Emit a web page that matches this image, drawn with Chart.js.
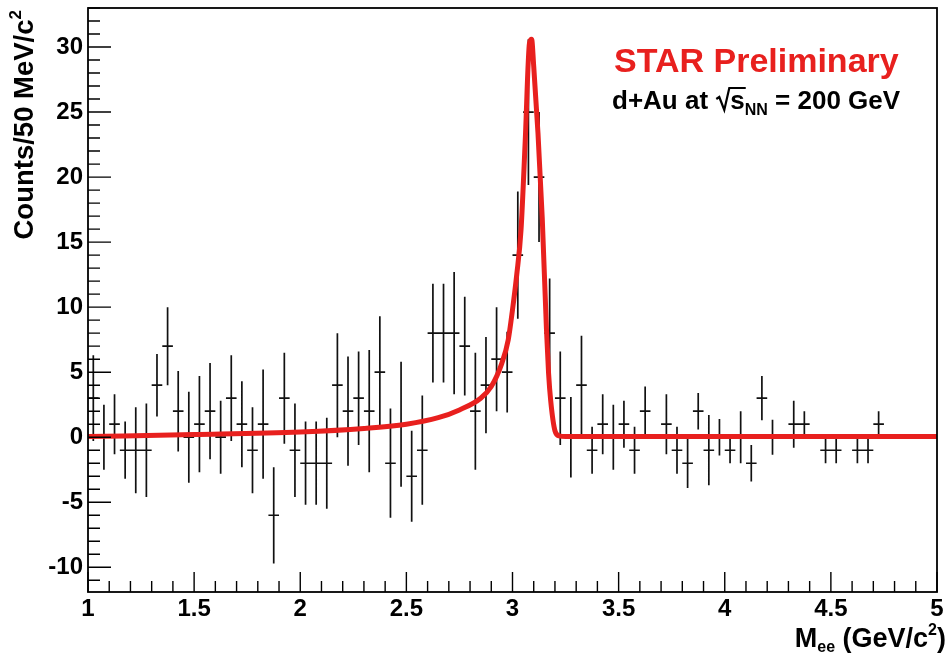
<!DOCTYPE html>
<html>
<head>
<meta charset="utf-8">
<title>STAR d+Au dielectron mass</title>
<script src="https://cdn.jsdelivr.net/npm/chart.js@4.4.1/dist/chart.umd.min.js"></script>
<style>
  html, body { margin: 0; padding: 0; background: #fff; }
  #wrap { width: 948px; height: 660px; }
</style>
</head>
<body>
<div id="wrap"><canvas id="chart" width="948" height="660"></canvas></div>
<script>
// bin centres in GeV/c^2 (50 MeV bins, empty bins left out)
const massBins = [
  1.025, 1.075, 1.125, 1.175, 1.225, 1.275, 1.325, 1.375, 1.425, 1.475,
  1.525, 1.575, 1.625, 1.675, 1.725, 1.775, 1.825, 1.875, 1.925, 1.975,
  2.025, 2.075, 2.125, 2.175, 2.225, 2.275, 2.325, 2.375, 2.425, 2.475,
  2.525, 2.575, 2.625, 2.675, 2.725, 2.775, 2.825, 2.875, 2.925, 2.975,
  3.025, 3.075, 3.125, 3.175, 3.225, 3.275, 3.325, 3.375, 3.425, 3.475,
  3.525, 3.575, 3.625,
  3.725, 3.775, 3.825, 3.875, 3.925, 3.975, 4.025, 4.075, 4.125, 4.175, 4.225,
  4.325, 4.375, 4.475, 4.525, 4.625, 4.675, 4.725
];
const counts = [
  3, 0, 1, -1, -1, -1, 4, 7, 2, 0,
  1, 2, 0, 3, 1, -1, 1, -6, 3, -1,
  -2, -2, -2, 4, 2, 3, 2, 5, -2, 1,
  -3, -1, 8, 8, 8, 7, 2, 4, 6, 5,
  14, 25, 20, 8, 3, 0, 4, -1, 1, 0,
  1, -1, 2,
  1, -1, -2, 2, -1, 0, -1, 0, -2, 3, 0,
  1, 1, -1, -1, -1, -1, 1
];
const countErrors = [
  3.3, 2.5, 2.3, 2.2, 3.3, 3.6, 2.4, 3.0, 3.1, 3.5,
  3.7, 3.7, 2.8, 3.3, 3.3, 3.3, 4.2, 3.7, 3.5, 3.6,
  3.2, 3.2, 3.5, 4.0, 4.2, 3.6, 4.7, 4.3, 4.2, 4.8,
  3.5, 4.2, 3.8, 3.8, 4.7, 3.8, 4.5, 3.7, 4.0, 3.1,
  4.9, 5.6, 5.0, 4.2, 3.6, 3.1, 3.8, 1.8, 2.3, 2.5,
  1.8, 1.8, 1.9,
  2.3, 1.8, 1.9, 1.4, 2.7, 1.4, 1.0, 2.0, 1.4, 1.7, 1.35,
  1.8, 1.0, 1.0, 1.0, 1.0, 1.0, 1.0
];
const binHalfWidth = 0.025;

// red fit curve
const fitMass = [1.0, 1.5, 2.0, 2.3, 2.5, 2.65, 2.75, 2.85, 2.9, 2.95, 2.98, 3.0, 3.02, 3.04, 3.06, 3.08, 3.09, 3.1, 3.12, 3.14, 3.16, 3.17, 3.18, 3.2, 3.22, 3.25, 5.0];
const fitCounts = [0.05, 0.2, 0.4, 0.67, 1.0, 1.5, 2.1, 3.0, 3.9, 5.7, 7.5, 9.8, 12.5, 15.9, 22.8, 30.3, 30.6, 28.5, 23.4, 16.9, 8.3, 4.9, 2.8, 0.5, 0.1, 0.05, 0.05];

// axis divisions (ROOT style: major + 4 minor)
const xMajorStep = 0.5, xMinorStep = 0.1;
const yMajorStep = 5, yMinorStep = 1;

const RED = '#e8201e';
const FONT = '"Liberation Sans", Arial, Helvetica, sans-serif';

const points = massBins.map((m, i) => ({ x: m, y: counts[i], err: countErrors[i] }));
const fitLine = fitMass.map((m, i) => ({ x: m, y: fitCounts[i] }));

// draws a run of text pieces: [text, size, dy] left to right
function drawPieces(ctx, pieces, x, y) {
  pieces.forEach(([t, size, dy]) => {
    ctx.font = 'bold ' + size + 'px ' + FONT;
    ctx.fillText(t, x, y + dy);
    x += ctx.measureText(t).width;
  });
  return x;
}
function piecesWidth(ctx, pieces) {
  let w = 0;
  pieces.forEach(([t, size]) => {
    ctx.font = 'bold ' + size + 'px ' + FONT;
    w += ctx.measureText(t).width;
  });
  return w;
}
const isMult = (v, step) => Math.abs(v / step - Math.round(v / step)) < 1e-6;

const rootStyle = {
  id: 'rootStyle',
  beforeDatasetsDraw(chart) {
    const { ctx, scales: { x, y } } = chart;
    ctx.save();
    ctx.strokeStyle = '#111';
    ctx.lineWidth = 1.7;
    ctx.beginPath();
    chart.data.datasets[0].data.forEach(p => {
      const px = x.getPixelForValue(p.x);
      const py = y.getPixelForValue(p.y);
      ctx.moveTo(x.getPixelForValue(p.x - binHalfWidth), py);
      ctx.lineTo(x.getPixelForValue(p.x + binHalfWidth), py);
      ctx.moveTo(px, y.getPixelForValue(p.y + p.err));
      ctx.lineTo(px, y.getPixelForValue(p.y - p.err));
    });
    ctx.stroke();
    ctx.restore();
  },
  afterDraw(chart) {
    const { ctx, chartArea: a, scales: { x, y } } = chart;
    ctx.save();
    // frame
    ctx.strokeStyle = '#000';
    ctx.lineWidth = 1.8;
    ctx.strokeRect(a.left, a.top, a.right - a.left, a.bottom - a.top);
    // inward tick marks
    ctx.lineWidth = 1.4;
    ctx.beginPath();
    for (let k = Math.ceil(y.min / yMinorStep); k * yMinorStep <= y.max; k++) {
      const v = k * yMinorStep;
      const py = y.getPixelForValue(v);
      ctx.moveTo(a.left, py);
      ctx.lineTo(a.left + (isMult(v, yMajorStep) ? 23 : 12), py);
    }
    for (let k = Math.ceil(x.min / xMinorStep - 1e-6); k * xMinorStep <= x.max + 1e-6; k++) {
      const v = k * xMinorStep;
      const px = x.getPixelForValue(v);
      ctx.moveTo(px, a.bottom);
      ctx.lineTo(px, a.bottom - (isMult(v, xMajorStep) ? 20 : 11));
    }
    ctx.stroke();

    ctx.fillStyle = '#000';
    ctx.textBaseline = 'alphabetic';
    ctx.textAlign = 'left';

    // x title: M_ee (GeV/c^2), right aligned
    const xt = [['M', 27, 0], ['ee', 16, 5], [' (GeV/c', 27, 0], ['2', 16, -12], [')', 27, 0]];
    drawPieces(ctx, xt, 946 - piecesWidth(ctx, xt), 647);

    // y title: Counts/50 MeV/c^2, rotated, top aligned
    const yt = [['Counts/50 MeV/c', 27.5, 0], ['2', 17, -12]];
    ctx.save();
    ctx.translate(33, 10 + piecesWidth(ctx, yt));
    ctx.rotate(-Math.PI / 2);
    drawPieces(ctx, yt, 0, 0);
    ctx.restore();

    // STAR Preliminary
    ctx.fillStyle = RED;
    ctx.font = 'bold 34px ' + FONT;
    ctx.fillText('STAR Preliminary', 614, 72);

    // d+Au at sqrt(s_NN) = 200 GeV
    ctx.fillStyle = '#000';
    const base = 109;
    let cx = drawPieces(ctx, [['d+Au at ', 26, 0]], 612, base);
    ctx.strokeStyle = '#000';
    ctx.lineWidth = 2.2;
    ctx.beginPath();
    ctx.moveTo(cx + 1, base - 10);
    ctx.lineTo(cx + 4, base - 12);
    ctx.lineTo(cx + 9, base + 1);
    ctx.lineTo(cx + 14, base - 21);
    const sW = piecesWidth(ctx, [['s', 26, 0]]);
    ctx.lineTo(cx + 15 + sW + 1, base - 21);
    ctx.stroke();
    drawPieces(ctx, [['s', 26, 0], ['NN', 16, 6], [' = 200 GeV', 26, 0]], cx + 15, base);
    ctx.restore();
  }
};

new Chart(document.getElementById('chart'), {
  type: 'scatter',
  data: {
    datasets: [
      {
        label: 'data',
        data: points,
        pointRadius: 0,
        showLine: false
      },
      {
        label: 'fit',
        data: fitLine,
        showLine: true,
        borderColor: RED,
        backgroundColor: RED,
        borderWidth: 5,
        pointRadius: 0,
        cubicInterpolationMode: 'monotone'
      }
    ]
  },
  options: {
    responsive: false,
    animation: false,
    layout: { padding: { left: 0, top: 8, right: 11, bottom: 0 } },
    plugins: {
      legend: { display: false },
      tooltip: { enabled: false }
    },
    scales: {
      x: {
        type: 'linear',
        min: 1,
        max: 5,
        grid: { display: false, drawTicks: false },
        border: { display: false },
        ticks: {
          stepSize: xMajorStep,
          autoSkip: false,
          maxRotation: 0,
          includeBounds: false,
          padding: 3,
          color: '#000',
          font: { family: FONT, weight: 'bold', size: 24 },
          callback: v => String(Math.round(v * 10) / 10)
        },
        afterFit: s => { s.height = 68; s.paddingLeft = 0; s.paddingRight = 0; }
      },
      y: {
        type: 'linear',
        min: -11.9,
        max: 33,
        grid: { display: false, drawTicks: false },
        border: { display: false },
        ticks: {
          stepSize: yMajorStep,
          autoSkip: false,
          includeBounds: false,
          padding: 5,
          color: '#000',
          font: { family: FONT, weight: 'bold', size: 24 },
          callback: v => String(Math.round(v))
        },
        afterFit: s => { s.width = 88; s.paddingTop = 0; s.paddingBottom = 0; }
      }
    }
  },
  plugins: [rootStyle]
});
</script>
</body>
</html>
